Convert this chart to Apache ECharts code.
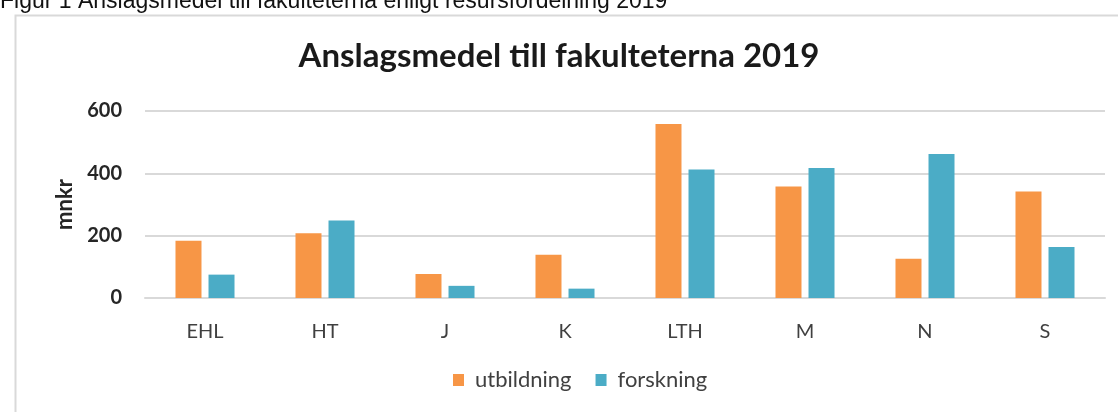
<!DOCTYPE html>
<html>
<head>
<meta charset="utf-8">
<script src="https://cdn.jsdelivr.net/npm/echarts@6/dist/echarts.min.js"></script>
<style>
html,body{margin:0;padding:0;background:#fff;}
#c{width:1118px;height:412px;}
</style>
</head>
<body>
<div id="c"></div>
<script>
const categories = ['EHL', 'HT', 'J', 'K', 'LTH', 'M', 'N', 'S'];
const utbildning = [184, 208, 77, 139, 558, 358, 126, 342];
const forskning = [75, 249, 39, 30, 412, 417, 462, 164];
const yTicks = { min: 0, max: 600, interval: 200 };

const chart = echarts.init(document.getElementById('c'));
chart.setOption({
  backgroundColor: '#fff',
  animation: false,
  title: {
    text: 'Anslagsmedel till fakulteterna 2019',
    left: 'center',
    top: 35,
    textStyle: { fontFamily: 'Lato', fontWeight: 'bold', fontSize: 33, color: '#1a1a1a' }
  },
  graphic: [
    {
      type: 'rect', left: 13, top: 13, silent: true,
      shape: { x: 0, y: 0, width: 1120, height: 420 },
      style: { fill: 'none', stroke: '#d9d9d9', lineWidth: 2 }
    },
    {
      type: 'text', left: 0, top: -10, silent: true,
      style: { text: 'Figur 1 Anslagsmedel till fakulteterna enligt resursfördelning 2019',
        font: '23px "Liberation Sans"', fill: '#111' }
    }
  ],
  legend: {
    data: ['utbildning', 'forskning'],
    bottom: 16,
    left: 448,
    itemWidth: 11, itemHeight: 12, itemGap: 24,
    icon: 'rect',
    textStyle: { fontFamily: 'Lato', fontSize: 22, color: '#404040', padding: [0, 0, 0, 6] }
  },
  grid: { left: 145, right: 13, top: 111, bottom: 114 },
  xAxis: {
    type: 'category',
    data: categories,
    axisLine: { lineStyle: { color: '#d9d9d9', width: 2 } },
    axisTick: { show: false },
    axisLabel: { fontFamily: 'Lato', fontSize: 20, color: '#404040', margin: 24 }
  },
  yAxis: {
    type: 'value',
    min: yTicks.min, max: yTicks.max, interval: yTicks.interval,
    name: 'mnkr',
    nameLocation: 'middle',
    nameGap: 48,
    nameRotate: 90,
    nameTextStyle: { fontFamily: 'Lato', fontWeight: 'bold', fontSize: 22, color: '#262626' },
    axisLine: { show: false },
    axisTick: { show: false },
    axisLabel: { fontFamily: 'Lato', fontWeight: 'bold', fontSize: 20, color: '#262626', margin: 23 },
    splitLine: { lineStyle: { color: '#d9d9d9', width: 2 } }
  },
  series: [
    { name: 'utbildning', type: 'bar', data: utbildning, barWidth: 26, barGap: '27%',
      itemStyle: { color: '#F79646' } },
    { name: 'forskning', type: 'bar', data: forskning, barWidth: 26,
      itemStyle: { color: '#4BACC6' } }
  ]
});
</script>
</body>
</html>
